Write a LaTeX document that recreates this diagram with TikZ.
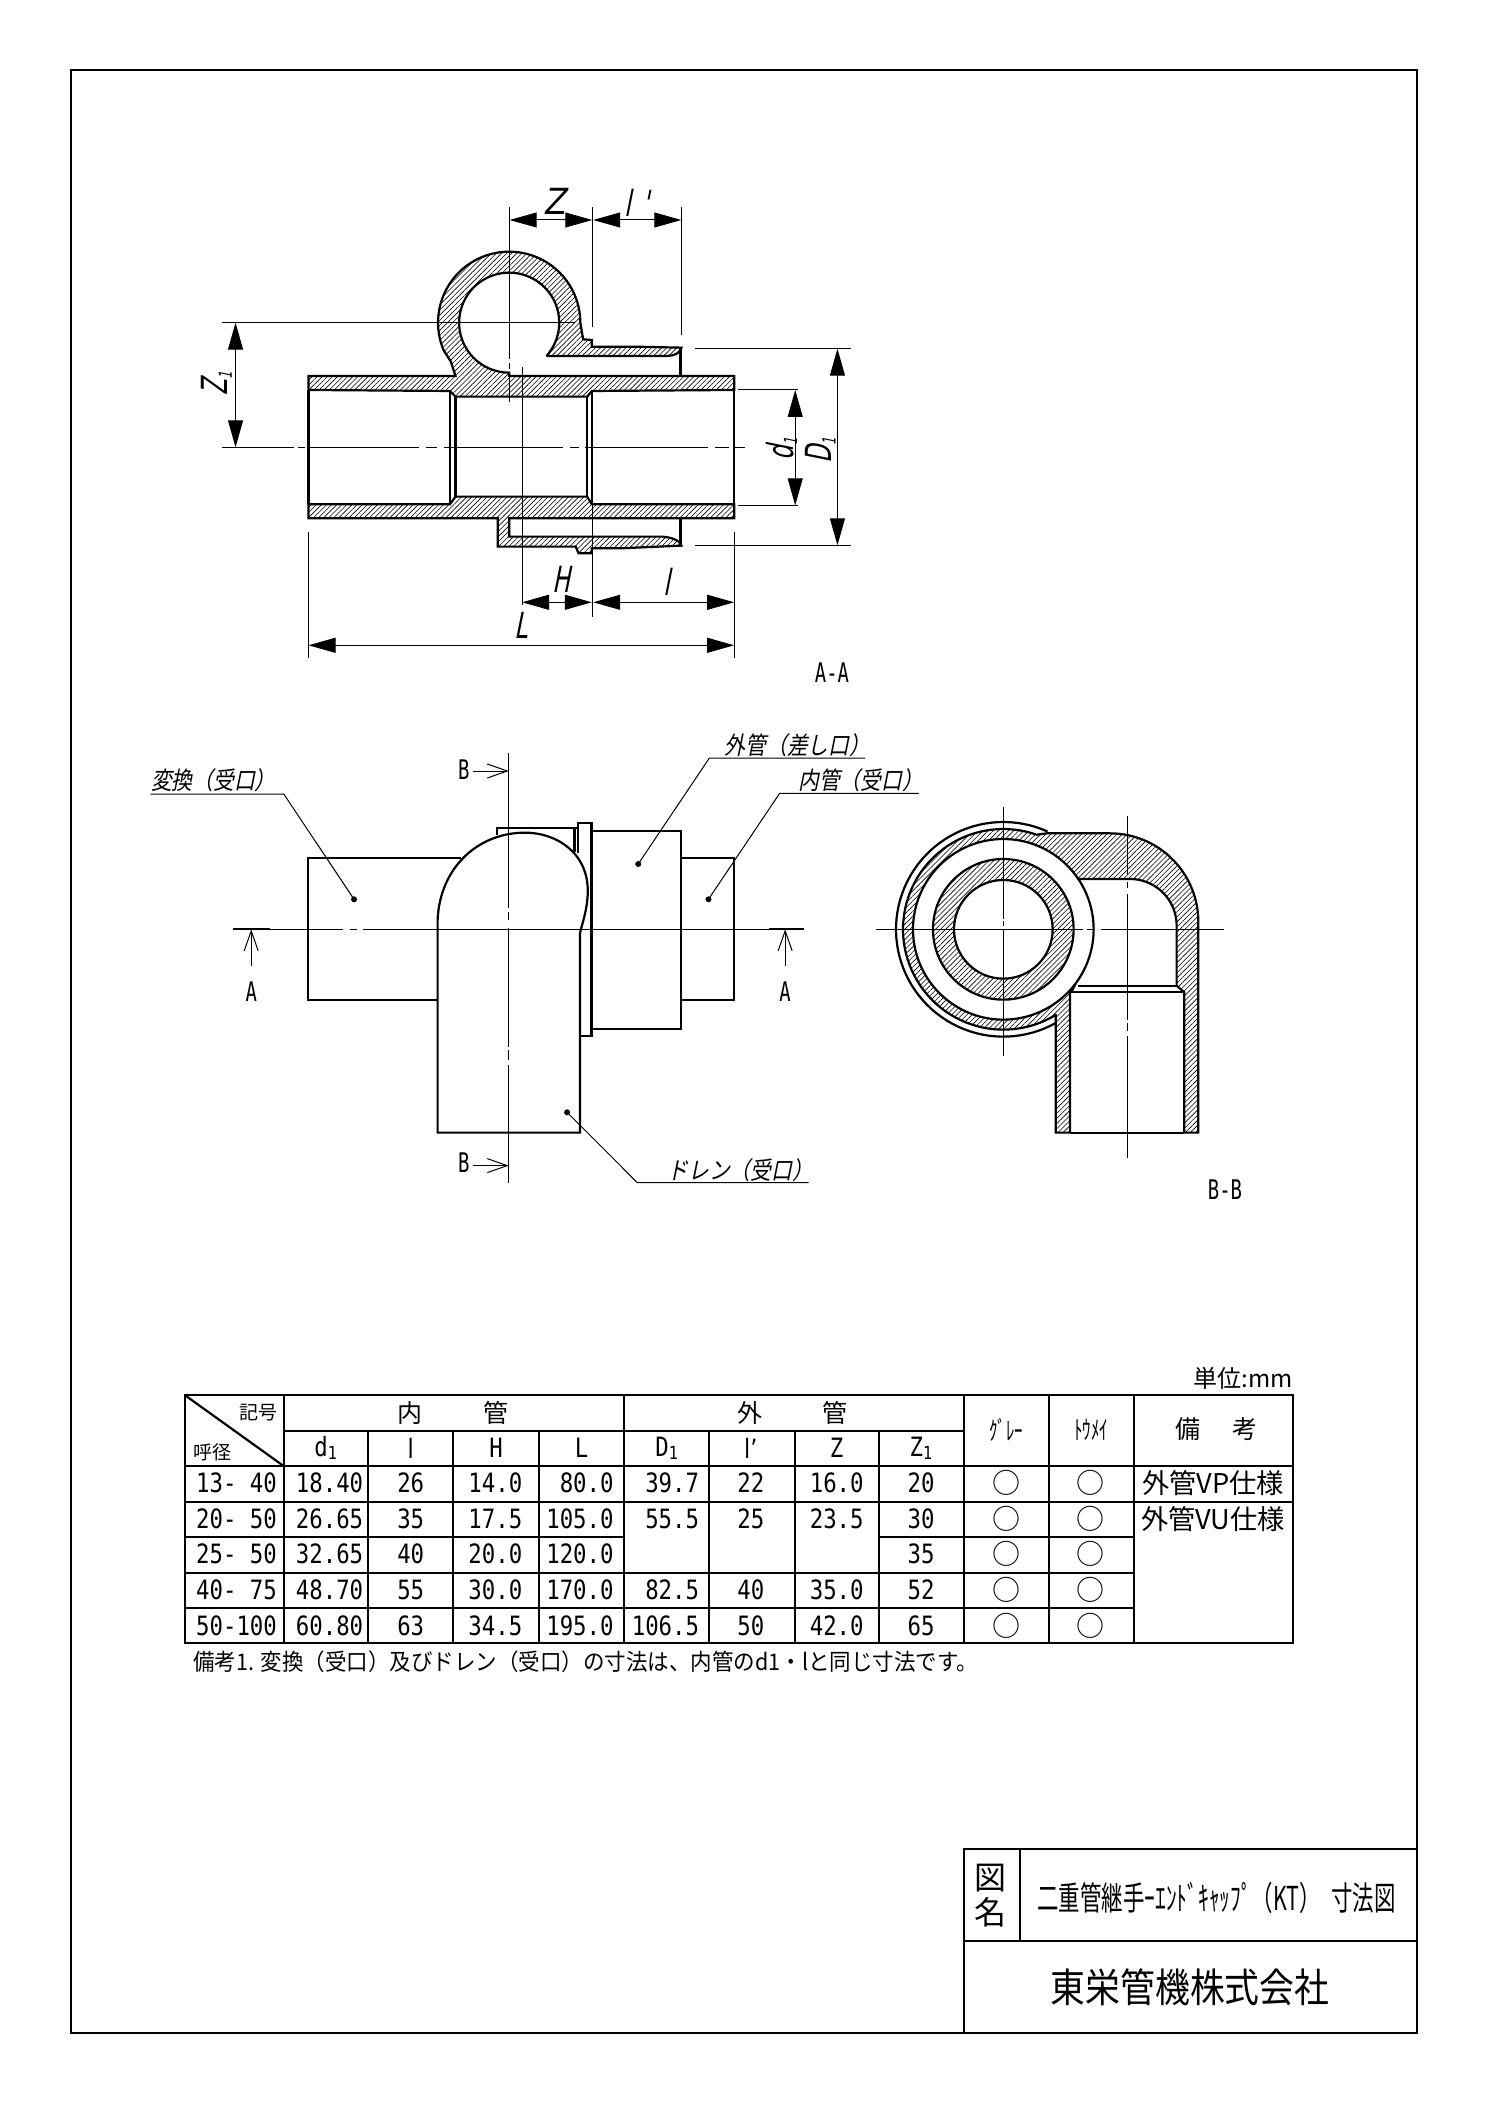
\documentclass[tikz,border=0pt]{standalone}
\usepackage{fontspec}
\setmainfont{Noto Sans CJK JP}
\newfontfamily\jpfont{Noto Sans CJK JP}
\newfontfamily\jpnarrow[FakeStretch=.87]{Noto Sans CJK JP}
\newfontfamily\jpnote[FakeStretch=.935]{Noto Sans CJK JP}
\newfontfamily\jpthin[FakeStretch=.65]{Noto Sans CJK JP}
\newfontfamily\jpslant[FakeStretch=.85,FakeSlant=.2]{Noto Sans CJK JP}
\newfontfamily\asciifont[FakeStretch=.84]{DejaVu Sans Mono}
\newfontfamily\asciinarrow[FakeStretch=.7]{DejaVu Sans Mono}
\newfontfamily\barfont[FakeStretch=.84]{DejaVu Sans}
\newfontfamily\dimfont[FakeStretch=.9,FakeSlant=.2]{DejaVu Sans}
\newfontfamily\dimrot[FakeStretch=.65,FakeSlant=.2]{DejaVu Sans}
\usetikzlibrary{arrows.meta}
\usetikzlibrary{patterns.meta}
\newcommand{\subone}{\raisebox{-1.5pt}{\fontsize{9}{10}\selectfont 1}}
\newcommand{\dimsub}{\raisebox{-2pt}{\fontsize{9}{10}\selectfont 1}}
\tikzset{
    outline/.style={line width=1.1pt, line join=miter},
    hatched/.style={pattern={Lines[angle=45,distance=1.8pt,line width=0.3pt]}},
    fineline/.style={line width=0.5pt},
    dimarrow/.style={fineline, {Triangle[length=13.5pt,width=7.5pt]}-{Triangle[length=13.5pt,width=7.5pt]}},
    cutarrow/.style={fineline, -{Straight Barb[length=10pt,width=7pt]}},
    cutend/.style={line width=1.1pt},
    dimlabel/.style={font=\dimfont\fontsize{18}{20}\selectfont, inner sep=0pt},
    dimnarrow/.style={font=\dimrot\fontsize{18}{20}\selectfont, inner sep=0pt},
    dimside/.style={dimnarrow, rotate=90},
    viewlabel/.style={font=\asciinarrow\fontsize{13.5}{15}\selectfont, inner sep=0pt},
    noteslant/.style={font=\jpslant\fontsize{12.2}{14}\selectfont, inner sep=0pt, anchor=west},
    leaderdot/.style={circle, fill, inner sep=0pt, minimum size=3pt},
    tablenum/.style={font=\asciifont\fontsize{13.3}{15}\selectfont, inner sep=0pt},
    tablehead/.style={font=\jpfont\fontsize{12.5}{14}\selectfont, inner sep=0pt},
    tablebar/.style={font=\barfont\fontsize{13.3}{15}\selectfont, inner sep=0pt},
    tablemark/.style={font=\jpfont\fontsize{14}{15}\selectfont, inner sep=0pt}
}

\begin{document}
\begin{tikzpicture}[x=0.5pt,y=-0.5pt]
    \fill[white] (0,0) rectangle (1488,2104);
    \useasboundingbox (0,0) rectangle (1488,2104);

    % Sheet frame
    \draw[outline] (71,70) rectangle (1417,2033);

    % View A-A
    \begin{scope}[shift={(180,180)},xscale=0.4591,yscale=0.3333]
        % Upper wall with the ring
        \draw[outline,hatched] (280,588) -- (600,588) -- (590,545)
            -- plot[domain=157:360,samples=60,variable=\t] ({717+155*cos(\t)},{428+213*sin(\t)})
            -- (878,478) -- (897,480) -- (897,500) -- (990,500) -- (1092,503)
            .. controls (1090,520) and (1075,528) .. (1060,528) -- (798,528)
            -- plot[domain=41.8:-270,samples=80,variable=\t] ({717+109*cos(\t)},{428+150*sin(\t)})
            -- (717,588) -- (1207,588) -- (1207,630) -- (897,633) -- (887,650)
            -- (600,650) -- (588,633) -- (280,630) -- cycle;
        % Lower wall with the shell
        \draw[outline,hatched] (280,973) -- (588,973) -- (600,950) -- (887,950) -- (897,973)
            -- (1207,973) -- (1207,1015) -- (717,1015) -- (717,1070) -- (1050,1070)
            .. controls (1070,1072) and (1088,1080) .. (1092,1097)
            -- (960,1105) -- (897,1105) -- (897,1120) -- (868,1120) -- (862,1100)
            -- (692,1100) -- (692,1015) -- (280,1015) -- cycle;
        % Bore
        \draw[outline] (280,630) -- (280,973);
        \draw[outline] (1207,630) -- (1207,973);
        \draw[outline] (588,633) -- (588,973);
        \draw[outline] (600,650) -- (600,950);
        \draw[outline] (887,650) -- (887,950);
        \draw[outline] (897,633) -- (897,973);
        \draw[outline] (1090,503) -- (1090,588);
        \draw[outline] (1090,1015) -- (1090,1097);

        % Centre lines
        \foreach \a/\b in {92/248,258/272,282/520,535/560,575/835,850/868,882/1150,1165/1195,1205/1230} {
            \draw[fineline] (\a,802) -- (\b,802);
        }
        \foreach \a/\b in {82/538,550/566,575/665} {
            \draw[fineline] (717,\a) -- (717,\b);
        }

        % Extension lines
        \coordinate (zone a) at (92,428);
        \coordinate (zone b) at (860,428);
        \draw[fineline] (zone a) -- (zone b);
        \draw[fineline] (745,562) -- (745,1275);
        \draw[fineline] (898,82) -- (898,440);
        \draw[fineline] (898,975) -- (898,1310);
        \draw[fineline] (1092,82) -- (1092,465);
        \draw[fineline] (1122,505) -- (1462,505);
        \draw[fineline] (1122,1096) -- (1462,1096);
        \draw[fineline] (1215,628) -- (1345,628);
        \draw[fineline] (1215,976) -- (1345,976);
        \draw[fineline] (280,1055) -- (280,1435);
        \draw[fineline] (1207,1055) -- (1207,1435);

        % Dimensions
        \draw[dimarrow] (718,120) -- (898,120);
        \draw[dimarrow] (900,120) -- (1092,120);
        \draw[dimarrow] (745,1267) -- (897,1267);
        \draw[dimarrow] (900,1267) -- (1207,1267);
        \draw[dimarrow] (280,1396) -- (1207,1396);
        \draw[dimarrow] (121,428) -- (121,802);
        \draw[dimarrow] (1340,630) -- (1340,976);
        \draw[dimarrow] (1432,506) -- (1432,1096);

        % Labels
        \node[dimlabel] (dim z) at (815,65) {Z};
        \node[dimnarrow] (dim lp) at (995,68) {l\hspace{6pt}'};
        \node[dimnarrow] (dim h) at (830,1198) {H};
        \node[dimnarrow] (dim l) at (1060,1205) {l};
        \node[dimnarrow] (dim bigl) at (742,1335) {L};
        \node[dimside] (dim zone) at (80,610) {Z\dimsub};
        \node[dimside] (dim d) at (1310,808) {d\dimsub};
        \node[dimside] (dim bigd) at (1395,812) {D\dimsub};
        \node[viewlabel] (view a) at (1420,1478) {A-A};
    \end{scope}

    % Side view
    \begin{scope}[shift={(130,720)},xscale=0.4591,yscale=0.3333]
        % Sockets
        \draw[outline] (720,413) -- (388,413) -- (388,840) -- (670,840);
        \draw[outline] (1200,413) -- (1315,413) -- (1315,840) -- (1200,840);
        \draw[outline] (1005,332) -- (1200,332) -- (1200,927) -- (1005,927);
        % Flange
        \draw[outline,fill=white] (975,400) -- (975,310) -- (1005,310) -- (1005,947) -- (980,947);
        \draw[outline] (800,345) -- (800,325) -- (975,325);
        \draw[outline] (968,325) -- (968,395);
        % Elbow
        \draw[outline,fill=white] (670,1238) -- (670,600)
            .. controls (675,440) and (760,338) .. (860,338)
            .. controls (930,338) and (1000,400) .. (997,520)
            .. controls (996,570) and (985,610) .. (980,640)
            -- (980,1238) -- cycle;

        % Centre lines
        \foreach \a/\b in {305/465,480/495,508/1392} {
            \draw[fineline] (\a,628) -- (\b,628);
        }
        \foreach \a/\b in {100/565,575/600,625/980,990/1020,1035/1390} {
            \draw[fineline] (825,\a) -- (825,\b);
        }

        % Cutting plane marks
        \draw[cutend] (225,628) -- (305,628);
        \draw[cutend] (1392,628) -- (1468,628);
        \draw[cutarrow] (264,738) -- (264,628);
        \draw[cutarrow] (1427,738) -- (1427,628);
        \draw[cutarrow] (748,153) -- (825,153);
        \draw[cutarrow] (748,1337) -- (825,1337);
        \node[viewlabel] (cut a left) at (264,815) {A};
        \node[viewlabel] (cut a right) at (1427,815) {A};
        \node[viewlabel] (cut b top) at (727,148) {B};
        \node[viewlabel] (cut b bottom) at (727,1327) {B};

        % Leaders
        \node[leaderdot] (dot conv) at (488,538) {};
        \node[leaderdot] (dot outer) at (1107,432) {};
        \node[leaderdot] (dot inner) at (1260,538) {};
        \node[leaderdot] (dot drain) at (952,1177) {};
        \coordinate (conv a) at (45,222);
        \coordinate (conv b) at (335,222);
        \coordinate (outer a) at (1601,114);
        \coordinate (outer b) at (1262,114);
        \coordinate (inner a) at (1718,220);
        \coordinate (inner b) at (1415,220);
        \coordinate (drain a) at (1478,1388);
        \coordinate (drain b) at (1105,1388);
        \draw[fineline] (conv a) -- (conv b) -- (dot conv.center);
        \draw[fineline] (outer a) -- (outer b) -- (dot outer.center);
        \draw[fineline] (inner a) -- (inner b) -- (dot inner.center);
        \draw[fineline] (drain a) -- (drain b) -- (dot drain.center);
        \node[noteslant] (label conv) at (45,182) {変換（受口）};
        \node[noteslant] (label outer) at (1295,75) {外管（差し口）};
        \node[noteslant] (label inner) at (1455,180) {内管（受口）};
        \node[noteslant] (label drain) at (1170,1350) {ドレン（受口）};
    \end{scope}

    % View B-B
    \begin{scope}[shift={(850,800)},scale=0.3333]
        \draw[outline] plot[domain=60.9:294.3,samples=70,variable=\t] ({460+322*cos(\t)},{388+322*sin(\t)});
        % Elbow wall with the outer ring
        \draw[outline,hatched] (590,100) -- (780,100)
            -- plot[domain=-90:0,samples=30,variable=\t] ({780+265*cos(\t)},{365+265*sin(\t)})
            -- (1045,998) -- (1003,998) -- (1003,577) -- (980,557)
            -- plot[domain=0:-90,samples=30,variable=\t] ({840+140*cos(\t)},{377+140*sin(\t)})
            -- (685,237)
            -- plot[domain=-33.9:-323.6,samples=90,variable=\t] ({460+271*cos(\t)},{388+271*sin(\t)})
            -- (665,575) -- (660,577) -- (660,998) -- (617,998) -- (617,645)
            -- plot[domain=58.6:289.4,samples=70,variable=\t] ({460+301*cos(\t)},{388+301*sin(\t)})
            -- cycle;
        % Ring wall closing the elbow bore
        \draw[outline] plot[domain=-33.9:36.4,samples=30,variable=\t] ({460+271*cos(\t)},{388+271*sin(\t)});
        % Inner pipe
        \draw[outline,hatched,even odd rule] (460,388) circle[radius=211] (460,388) circle[radius=148];
        \draw[outline] (685,557) -- (980,557);
        \draw[outline] (665,577) -- (1003,577);
        \draw[outline] (660,998) -- (1003,998);

        % Centre lines
        \foreach \a/\b in {78/700,712/732,752/1122} {
            \draw[fineline] (\a,388) -- (\b,388);
        }
        \foreach \a/\b in {22/358,364/378,388/768} {
            \draw[fineline] (460,\a) -- (460,\b);
        }
        \foreach \a/\b in {48/225,245/265,282/660,670/692,708/1075} {
            \draw[fineline] (832,\a) -- (832,\b);
        }
        \node[viewlabel] (view b) at (1125,1170) {B-B};
    \end{scope}

    % Size table
    \node[font=\jpfont\fontsize{12}{14}\selectfont, inner sep=0pt, anchor=east] (unit) at (1293,1378) {単位:mm};
    \draw[outline] (184.7,1395) rectangle (1293.3,1642.7);
    \draw[outline] (283.6,1431) -- (964,1431);
    \foreach \y in {1466,1502} {
        \draw[outline] (184.7,\y) -- (1293.3,\y);
    }
    \foreach \y in {1572.7,1607.7} {
        \draw[outline] (184.7,\y) -- (1134,\y);
    }
    \draw[outline] (184.7,1536.7) -- (624.1,1536.7);
    \draw[outline] (878.7,1536.7) -- (1134,1536.7);
    \foreach \x in {283.6,624.1,964,1049,1134} {
        \draw[outline] (\x,1395) -- (\x,1642.7);
    }
    \foreach \x in {367.8,453.2,539.1,709.1,794.6,878.7} {
        \draw[outline] (\x,1431) -- (\x,1642.7);
    }
    \draw[outline] (184.7,1395) -- (283.6,1466);

    % Table head
    \node[font=\jpfont\fontsize{9.5}{11}\selectfont, inner sep=0pt] (head sign) at (258,1412.7) {記号};
    \node[font=\jpfont\fontsize{9.5}{11}\selectfont, inner sep=0pt] (head size) at (212,1452.7) {呼径};
    \node[tablehead] (head inner) at (453,1413) {内\hspace{30.5pt}管};
    \node[tablehead] (head outer) at (792.7,1413) {外\hspace{30pt}管};
    \node[font=\jpthin\fontsize{13}{15}\selectfont, inner sep=0pt] (head gray) at (1006,1429.5) {ｸﾞﾚｰ};
    \node[font=\jpthin\fontsize{13}{15}\selectfont, inner sep=0pt] (head clear) at (1091,1429.5) {ﾄｳﾒｲ};
    \node[tablehead] (head note) at (1216.7,1429) {備\hspace{16pt}考};
    \node[tablenum] (col d) at (325.7,1448) {d\subone};
    \node[tablebar] (col l) at (410.7,1448) {l};
    \node[tablenum] (col h) at (496,1448) {H};
    \node[tablenum] (col bigl) at (581.6,1448) {L};
    \node[tablenum] (col bigd) at (666.6,1448) {D\subone};
    \node[tablebar] (col lp) at (750.8,1448) {l’};
    \node[tablenum] (col z) at (836.6,1448) {Z};
    \node[tablenum] (col zone) at (921,1448) {Z\subone};

    % Table rows
    \foreach \y/\nom/\da/\la/\ha/\lb/\zb in {
        1483/13- 40/18.40/26/14.0/80.0/20,
        1519/20- 50/26.65/35/17.5/105.0/30,
        1554/25- 50/32.65/40/20.0/120.0/35,
        1590/40- 75/48.70/55/30.0/170.0/52,
        1626/50-100/60.80/63/34.5/195.0/65} {
        \node[tablenum,anchor=east] at (277.3,\y) {\nom};
        \node[tablenum,anchor=east] at (363.6,\y) {\da};
        \node[tablenum] at (410.7,\y) {\la};
        \node[tablenum,anchor=east] at (522.7,\y) {\ha};
        \node[tablenum,anchor=east] at (614,\y) {\lb};
        \node[tablenum] at (921,\y) {\zb};
        \node[tablemark] at (1006,\y) {○};
        \node[tablemark] at (1090.7,\y) {○};
    }
    \foreach \y/\db/\lp/\za in {1483/39.7/22/16.0, 1519/55.5/25/23.5, 1590/82.5/40/35.0, 1626/106.5/50/42.0} {
        \node[tablenum,anchor=east] at (699.5,\y) {\db};
        \node[tablenum] at (750.8,\y) {\lp};
        \node[tablenum,anchor=east] at (864,\y) {\za};
    }
    \node[tablemark,font=\jpfont\fontsize{13.6}{15}\selectfont] (spec vp) at (1213,1483) {外管VP仕様};
    \node[tablemark,font=\jpfont\fontsize{13.6}{15}\selectfont] (spec vu) at (1213,1519) {外管VU仕様};

    % Note below the table
    \node[font=\jpnote\fontsize{11.5}{13}\selectfont, inner sep=0pt, anchor=west] (note) at (193,1661.7)
        {備考1. 変換（受口）及びドレン（受口）の寸法は、内管のd1・lと同じ寸法です。};

    % Title block
    \draw[outline] (964,2033) -- (964,1849) -- (1417,1849);
    \draw[outline] (964,1940.7) -- (1417,1940.7);
    \draw[outline] (1020,1849) -- (1020,1940.7);
    \node[font=\jpfont\fontsize{16}{18}\selectfont, inner sep=0pt] (title a) at (990.7,1878) {図};
    \node[font=\jpfont\fontsize{16}{18}\selectfont, inner sep=0pt] (title b) at (990.7,1912) {名};
    \node[font=\jpthin\fontsize{16.5}{19}\selectfont, inner sep=0pt, anchor=west] (title) at (1037,1898)
        {二重管継手ｰｴﾝﾄﾞｷｬｯﾌﾟ（KT）\hspace{5pt}寸法図};
    \node[font=\jpnarrow\fontsize{20}{22}\selectfont, inner sep=0pt] (maker) at (1190,1987) {東栄管機株式会社};
\end{tikzpicture}
\end{document}
